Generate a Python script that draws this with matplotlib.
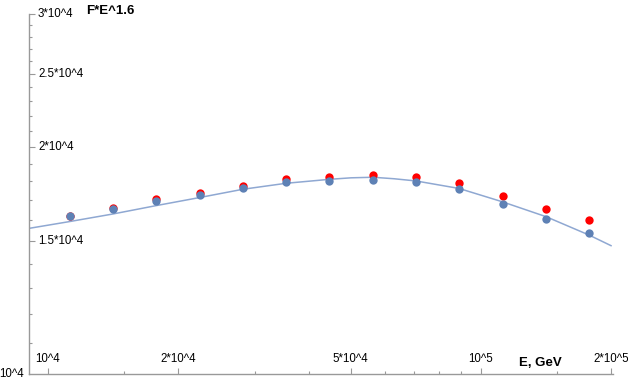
import matplotlib
matplotlib.use("Agg")
import matplotlib.pyplot as plt
from matplotlib.ticker import FixedLocator, NullFormatter

# measured points, E in GeV, F*E^1.6
energy = [11220, 14125, 17783, 22387, 28184, 35481, 44668, 56234, 70795, 89125, 112202, 141254, 177828]
flux_red = [16200, 16612, 17042, 17360, 17752, 18116, 18262, 18338, 18245, 17929, 17232, 16562, 15987]
flux_blue = [16212, 16532, 16956, 17252, 17659, 17970, 18024, 18050, 17953, 17574, 16785, 16050, 15367]

# fitted curve
fit_energy = [9040, 11182, 14129, 17754, 22322, 28200, 35460, 44800, 50100, 56320, 62970, 70780, 88970, 111830, 141290, 177600, 199700]
fit_flux = [15596, 15918, 16296, 16715, 17128, 17573, 17896, 18116, 18197, 18229, 18146, 18024, 17617, 16920, 16164, 15283, 14794]

x_major = [1e4, 2e4, 5e4, 1e5, 2e5]
x_major_labels = ["10^4", "2*10^4", "5*10^4", "10^5", "2*10^5"]
x_minor = [1.5e4, 3e4, 4e4, 6e4, 7e4, 8e4, 9e4, 1.5e5]
y_major = [1.5e4, 2e4, 2.5e4, 3e4]
y_major_labels = ["1.5*10^4", "2*10^4", "2.5*10^4", "3*10^4"]
y_minor = [v * 1000 for v in range(11, 30) if v not in (15, 20, 25)]

plt.rcParams["font.family"] = ["Liberation Sans", "DejaVu Sans"]

W, H = 628, 389
fig = plt.figure(figsize=(W / 100, H / 100), dpi=100)
left, right, top, bottom = 29, 613, 14, 374
ax = fig.add_axes([left / W, 1 - bottom / H, (right - left) / W, (bottom - top) / H])

ax.set_xscale("log")
ax.set_yscale("log")
ax.set_xlim(9040, 201800)
ax.set_ylim(1e4, 3e4)

ax.plot(fit_energy, fit_flux, color="#8FA8D2", linewidth=1.1, zorder=2)
ax.plot(energy, flux_red, "o", color="#FF0000", markersize=6, markeredgewidth=0, zorder=3)
ax.plot(energy, flux_blue, "o", color="#5E81B5", markersize=6, markeredgewidth=0, zorder=4)

for s in ["top", "right"]:
    ax.spines[s].set_visible(False)
for s in ["left", "bottom"]:
    ax.spines[s].set_color("#999999")
    ax.spines[s].set_linewidth(1.0)

ax.xaxis.set_major_locator(FixedLocator(x_major))
ax.xaxis.set_minor_locator(FixedLocator(x_minor))
ax.yaxis.set_major_locator(FixedLocator(y_major))
ax.yaxis.set_minor_locator(FixedLocator(y_minor))
for axis in [ax.xaxis, ax.yaxis]:
    axis.set_major_formatter(NullFormatter())
    axis.set_minor_formatter(NullFormatter())
ax.tick_params(which="major", direction="in", length=4, width=0.8, color="#999999")
ax.tick_params(which="minor", direction="in", length=2.5, width=0.8, color="#999999")

fs = 8.3
for v, lab in zip(x_major, x_major_labels):
    ax.annotate(lab, xy=(v, 0), xycoords=("data", "axes fraction"),
                xytext=(0, 9), textcoords="offset pixels",
                ha="center", va="bottom", fontsize=fs)
for v, lab in zip(y_major, y_major_labels):
    ax.annotate(lab, xy=(0, v), xycoords=("axes fraction", "data"),
                xytext=(9, 0), textcoords="offset pixels",
                ha="left", va="center", fontsize=fs)
ax.annotate("10^4", xy=(0, 1e4), xycoords=("axes fraction", "data"),
            xytext=(-5, 0), textcoords="offset pixels",
            ha="right", va="center", fontsize=fs)

fig.text(110.5 / W, 1 - 11.5 / H, "F*E^1.6", ha="center", va="center",
         fontsize=9.5, fontweight="bold")
fig.text(540.5 / W, 1 - 363 / H, "E, GeV", ha="center", va="center",
         fontsize=9.5, fontweight="bold")

fig.savefig("out.png", dpi=100)
